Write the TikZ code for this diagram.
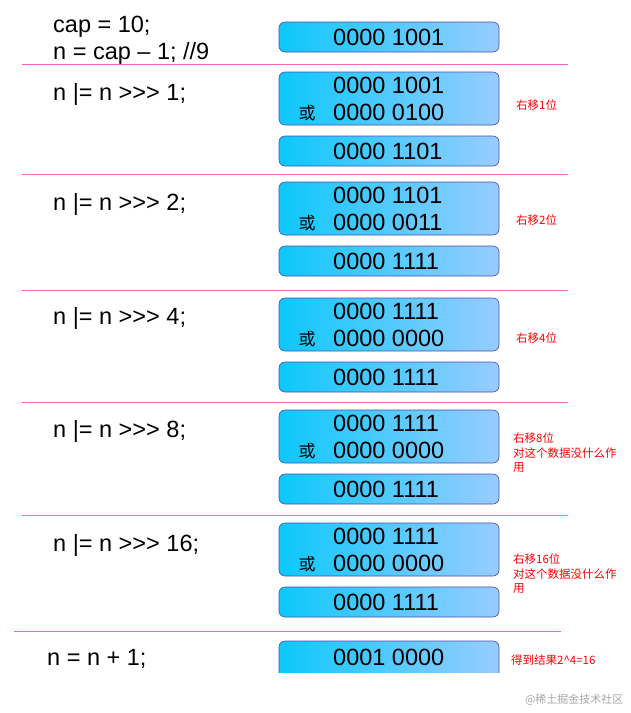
\documentclass[tikz,border=0pt]{standalone}
\usepackage{fontspec}
\setmainfont{Liberation Sans}
\newfontfamily\cjk{Noto Sans CJK SC}
\begin{document}
\begin{tikzpicture}[x=1pt,y=-1pt,
  bx/.style={draw=blue!40!gray,rounded corners=6pt,line width=0.6pt},
  num/.style={font=\fontsize{23.5}{24}\selectfont,anchor=west,inner sep=0pt},
  code/.style={font=\fontsize{23.5}{24}\selectfont,anchor=west,inner sep=0pt},
  lbl/.style={font=\cjk\fontsize{11.5}{14.5}\selectfont,text=red,anchor=west,align=left,inner sep=0pt},
  sep/.style={draw=magenta!60,line width=0.8pt}]
\useasboundingbox (0,0) rectangle (631,713);
\definecolor{c1}{HTML}{0CC8FB}\definecolor{c2}{HTML}{99CCFF}
\tikzset{bx/.append style={left color=c1,right color=c2}}
\def\gt{{>}{>}{>}}
% top
\node[code] (t1) at (53,27) {cap = 10;};
\node[code] (t2) at (53,53) {n = cap – 1; //9};
\path[bx] (279,22) rectangle (499,52);
\node[num] (b0) at (333,37) {0000 1001};
\draw[sep] (22,64) -- (568,64);
% sections
\foreach \i/\yb/\ys/\yt/\ylab/\sh/\aa/\ab/\res/\extra in {
 1/72/136/94/105/1/0000 1001/0000 0100/0000 1101/0,
 2/182/246/204/220/2/0000 1101/0000 0011/0000 1111/0,
 3/298/362/318/338/4/0000 1111/0000 0000/0000 1111/0,
 4/410/474/431/440/8/0000 1111/0000 0000/0000 1111/1,
 5/523/587/545/561/16/0000 1111/0000 0000/0000 1111/1}{
  \node[code] (c\i) at (53,\yt) {n |= n \gt\ \sh;};
  \path[bx] (279,\yb) rectangle (499,\yb+53);
  \node[num] (a\i) at (333,\yb+13) {\aa};
  \node[num] (o\i) at (333,\yb+40) {\ab};
  \node[font=\cjk\fontsize{17}{20}\selectfont] (h\i) at (307,\yb+41) {或};
  \path[bx] (279,\ys) rectangle (499,\ys+30);
  \node[num] (r\i) at (333,\ys+15) {\res};
  \ifnum\extra=1
    \node[lbl,anchor=north west] (m\i) at (513,\ylab-7) {右移\sh 位\\对这个数据没什么作\\用};
  \else
    \node[lbl] (m\i) at (516,\ylab) {右移\sh 位};
  \fi
}
\draw[sep] (22,174) -- (568,174);
\draw[sep] (22,290) -- (568,290);
\draw[sep] (22,402) -- (568,402);
\draw[sep] (22,515) -- (568,515);
\draw[sep] (14,631) -- (561,631);
% last
\node[code] (last) at (47,659) {n = n + 1;};
\begin{scope}
\clip (270,630) rectangle (510,672);
\path[bx] (279,641) rectangle (499,680);
\end{scope}
\node[num] (fin) at (333,657) {0001 0000};
\node[lbl] (fl) at (511,660) {得到结果2\^{}4=16};
\node[font=\cjk\fontsize{11}{13}\selectfont,text=gray!70,anchor=east] (wm) at (627,700) {@稀土掘金技术社区};
\end{tikzpicture}
\end{document}
